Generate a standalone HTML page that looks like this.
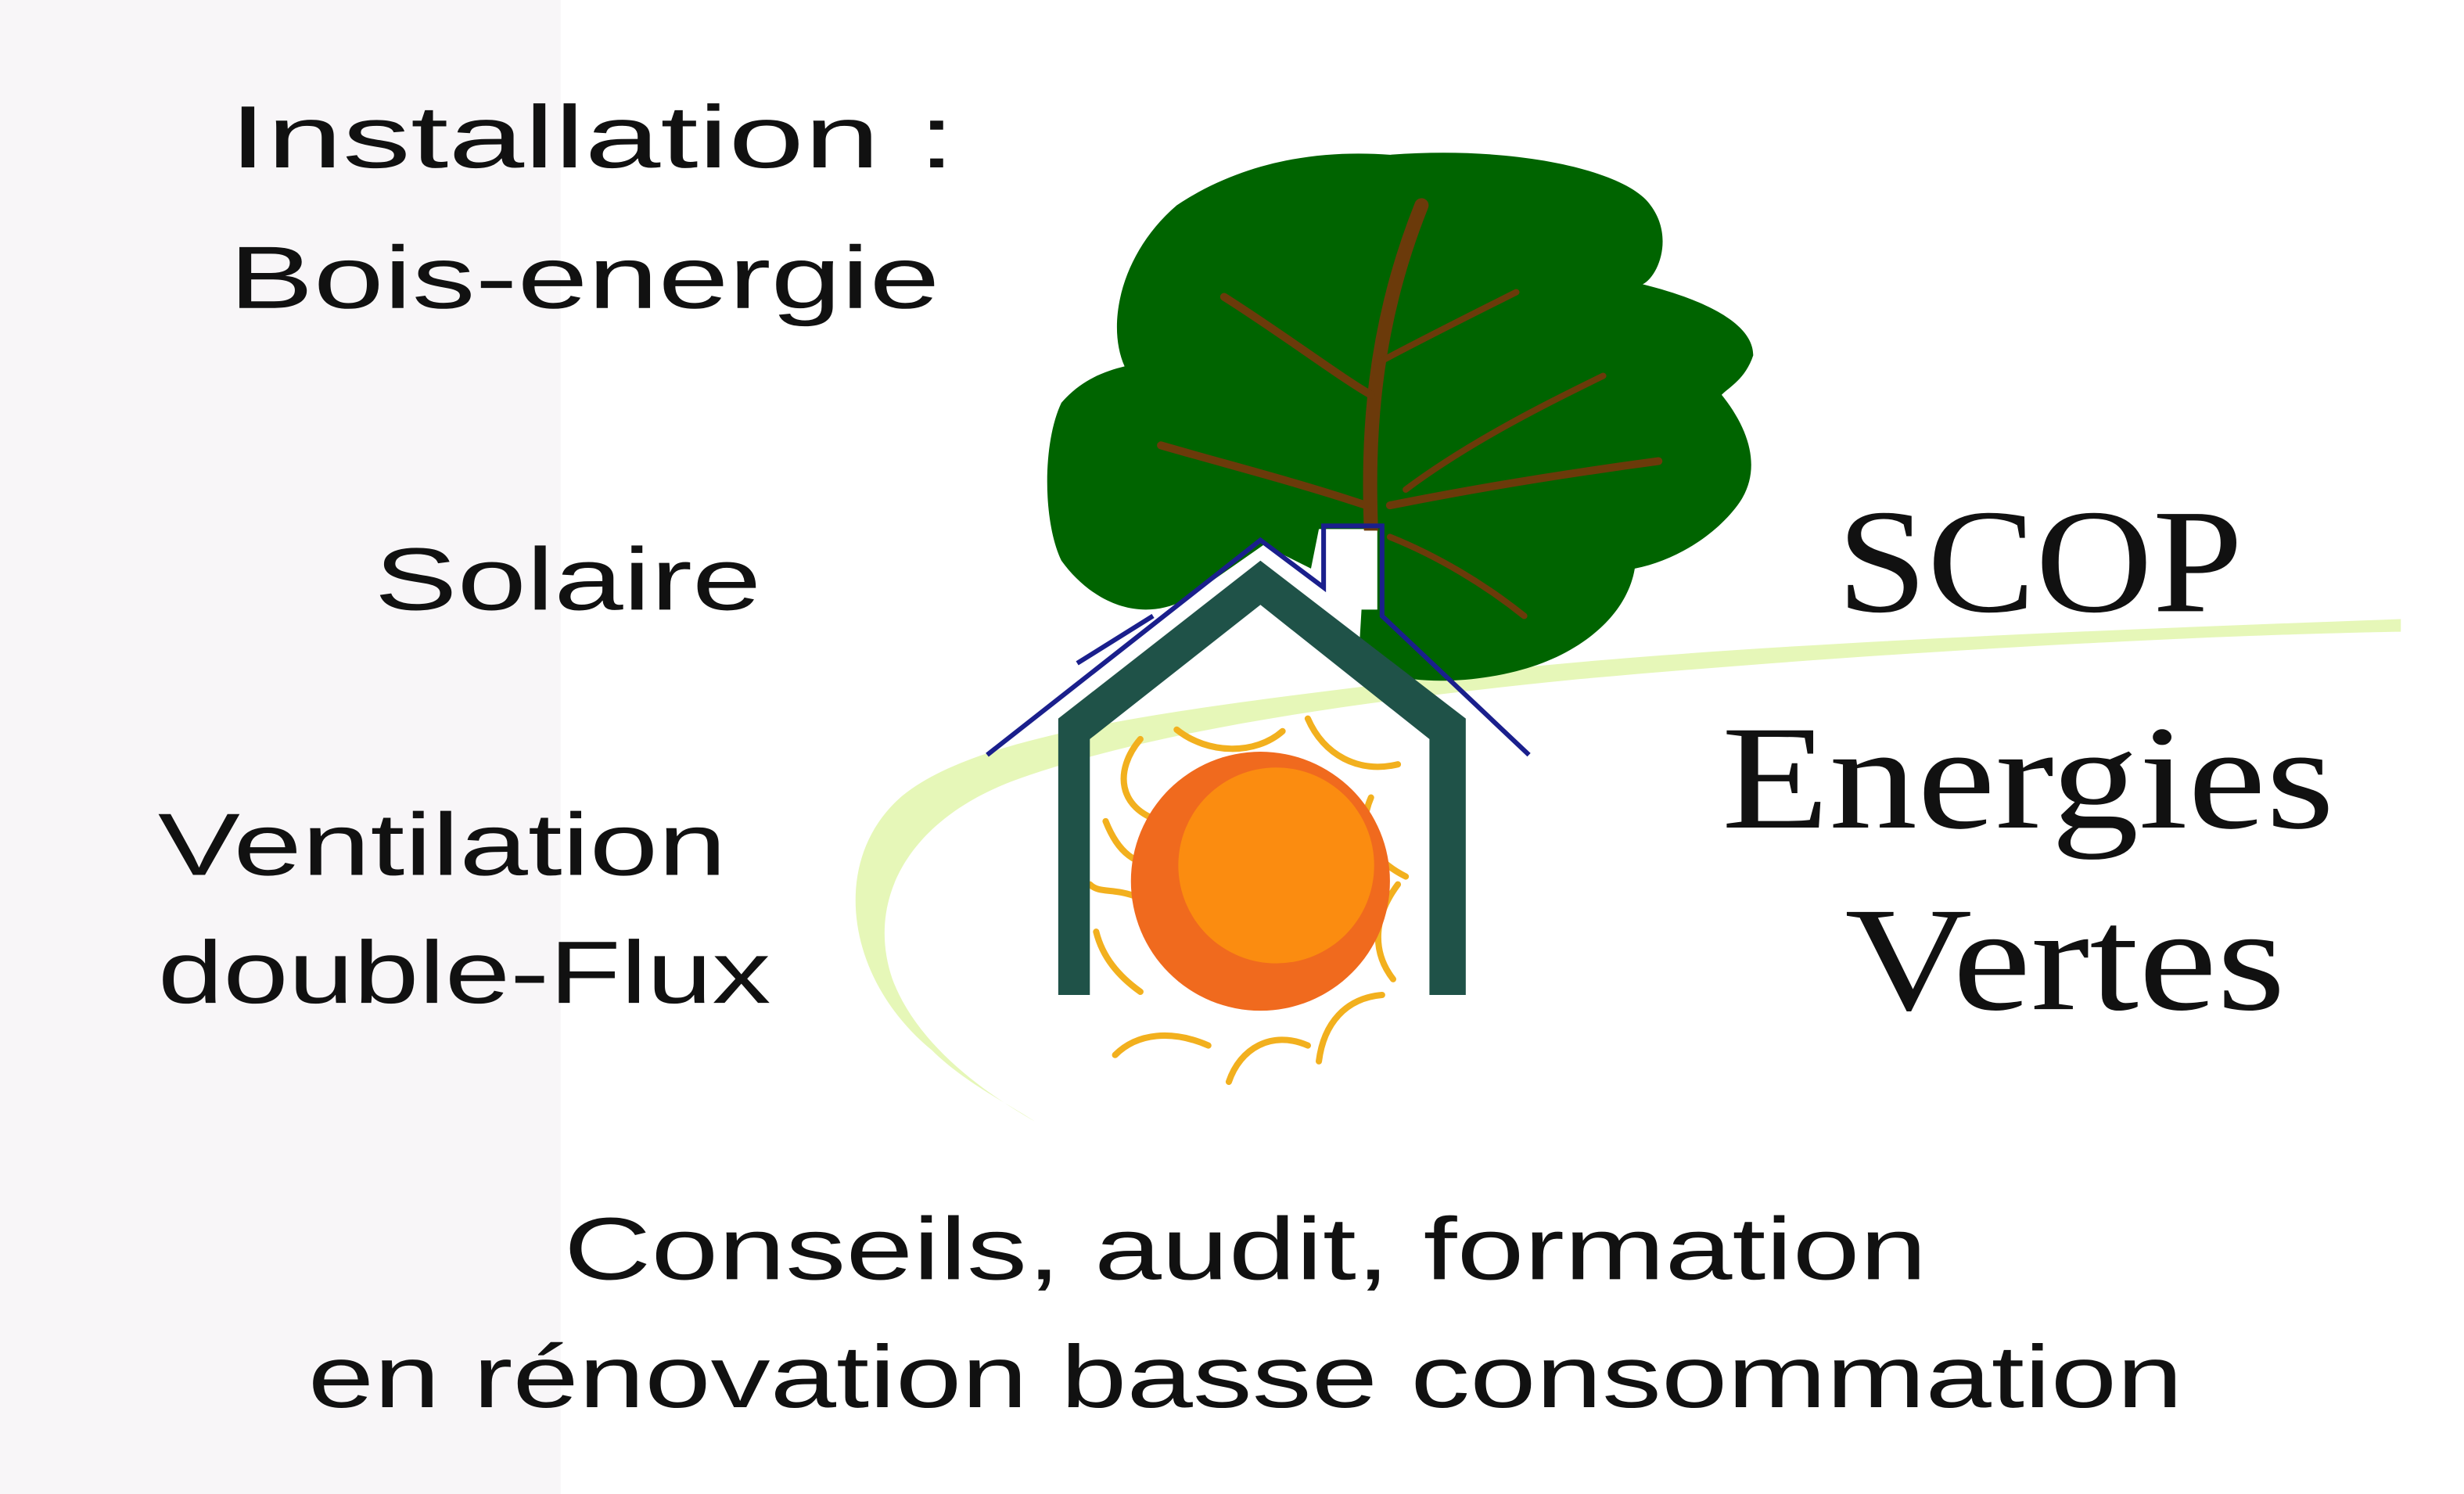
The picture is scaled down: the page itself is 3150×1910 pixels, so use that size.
<!DOCTYPE html>
<html><head><meta charset="utf-8"><style>
html,body{margin:0;padding:0;background:#fff}
svg{display:block}
.s{font-family:"Liberation Sans","DejaVu Sans",sans-serif;fill:#111}
.r{font-family:"Liberation Serif","DejaVu Serif",serif;fill:#111}
</style></head><body>
<svg width="3150" height="1910" viewBox="0 0 1560 946" preserveAspectRatio="none" xmlns="http://www.w3.org/2000/svg">
<rect x="0" y="0" width="1560" height="946" fill="#fff"/>
<rect x="0" y="0" width="355" height="946" fill="#f8f6f8"/>
<path d="M1520 392 C1300 400 1050 410 900 430 C760 448 620 462 570 505 C525 545 535 620 590 665 C610 685 640 700 655 710 C620 690 580 660 565 620 C548 570 575 520 640 495 C740 458 900 440 1000 430 C1200 412 1400 402 1520 400 Z" fill="#e6f7b8"/>
<path d="M745 130 C790 100 840 95 880 98 C960 92 1030 108 1045 130 C1060 150 1050 175 1040 180 C1080 190 1110 205 1110 225 C1105 240 1095 245 1090 250 C1110 275 1115 300 1100 320 C1085 340 1060 355 1035 360 C1030 390 1000 415 960 425 C920 435 880 432 860 420 L865 335 L835 335 L830 360 L800 345 L750 380 C720 395 690 380 672 355 C660 330 660 280 672 255 C685 240 700 235 712 232 C700 205 710 160 745 130 Z" fill="#006400"/>
<g stroke="#6b3a0a" stroke-linecap="round" fill="none">
<path d="M868 335 C866 280 868 210 900 130" stroke-width="9"/>
<path d="M868 250 C850 240 810 210 775 188" stroke-width="5"/>
<path d="M872 230 C900 215 930 200 960 185" stroke-width="4"/>
<path d="M865 320 C820 305 780 295 735 282" stroke-width="5"/>
<path d="M880 320 C930 310 990 300 1050 292" stroke-width="5"/>
<path d="M890 310 C930 280 980 255 1015 238" stroke-width="4"/>
<path d="M880 340 C910 352 940 370 965 390" stroke-width="4"/>
</g>
<g stroke="#f2b01e" stroke-width="4" fill="none" stroke-linecap="round">
<path d="M722 468 C705 488 708 512 735 520"/>
<path d="M745 462 C765 478 795 478 812 463"/>
<path d="M828 455 C838 478 860 490 885 484"/>
<path d="M868 505 C858 528 870 545 890 555"/>
<path d="M885 560 C870 580 868 602 882 620"/>
<path d="M875 630 C852 632 838 648 835 672"/>
<path d="M828 662 C805 652 785 664 778 685"/>
<path d="M765 662 C742 652 720 654 706 668"/>
<path d="M722 628 C708 618 698 606 694 590"/>
<path d="M720 568 C705 562 696 566 690 560"/>
<path d="M700 520 C708 540 718 548 740 550"/>
</g>
<circle cx="798" cy="558" r="82" fill="#f06a1e"/>
<circle cx="808" cy="548" r="62" fill="#fb8c10"/>
<path d="M670 455 L798 355 L928 455 L928 630 L905 630 L905 468 L798 383 L690 468 L690 630 L670 630 Z" fill="#1f5248"/>
<rect x="841" y="336" width="31" height="50" fill="#fff"/>
<g stroke="#1a1f8c" stroke-width="3" fill="none">
<path d="M625 478 L798 342 L838 372 L838 333 L875 333 L875 390 L968 478"/>
<path d="M682 420 L730 390"/>
</g>
<g class="s" font-size="56">
<text x="145" y="106" textLength="460" lengthAdjust="spacingAndGlyphs">Installation :</text>
<text x="145" y="195" textLength="450" lengthAdjust="spacingAndGlyphs">Bois-energie</text>
<text x="237" y="386" textLength="245" lengthAdjust="spacingAndGlyphs">Solaire</text>
<text x="100" y="554" textLength="360" lengthAdjust="spacingAndGlyphs">Ventilation</text>
<text x="100" y="635" textLength="388" lengthAdjust="spacingAndGlyphs">double-Flux</text>
<text x="357" y="810" textLength="863" lengthAdjust="spacingAndGlyphs">Conseils, audit, formation</text>
<text x="195" y="891" textLength="1187" lengthAdjust="spacingAndGlyphs">en rénovation basse consommation</text>
</g>
<g class="r" font-size="94">
<text x="1163" y="387" textLength="257" lengthAdjust="spacingAndGlyphs">SCOP</text>
<text x="1090" y="524" textLength="388" lengthAdjust="spacingAndGlyphs">Energies</text>
<text x="1168" y="639" textLength="279" lengthAdjust="spacingAndGlyphs">Vertes</text>
</g>
</svg>
</body></html>
